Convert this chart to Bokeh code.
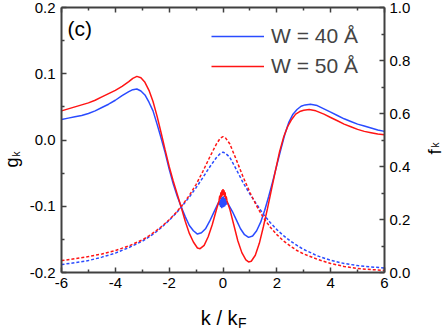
import math
from bokeh.plotting import figure
from bokeh.layouts import row, column
from bokeh.models import (Range1d, LinearAxis, FixedTicker, PrintfTickFormatter,
                          Label, Legend, LegendItem)
from bokeh.embed import file_html
from bokeh.resources import INLINE

# ---- data ----
k_w40 = [-6.0, -5.75, -5.5, -5.25, -5.0, -4.75, -4.5, -4.25, -4.0, -3.75, -3.5, -3.35, -3.2,
         -3.05, -2.9, -2.75, -2.6, -2.45, -2.3, -2.15, -2.0, -1.85, -1.7, -1.55, -1.4, -1.25,
         -1.1, -0.95, -0.8, -0.65, -0.5, -0.35, -0.2,
         -0.16, -0.13, -0.11, -0.09, -0.07, -0.05, -0.03, -0.01, 0.01, 0.03, 0.05, 0.07, 0.09,
         0.11, 0.13, 0.16,
         0.2, 0.35, 0.5, 0.65, 0.8, 0.95, 1.1, 1.25, 1.4, 1.55, 1.7, 1.85, 2.0, 2.15, 2.3,
         2.45, 2.6, 2.75, 2.9, 3.05, 3.25, 3.5, 3.75, 4.0, 4.25, 4.5, 4.75, 5.0, 5.25, 5.5,
         5.75, 6.0]
g_w40 = [0.031, 0.033, 0.035, 0.037, 0.040, 0.044, 0.049, 0.054, 0.060, 0.067, 0.073, 0.076, 0.077,
         0.074, 0.068, 0.057, 0.044, 0.024, 0.003, -0.019, -0.044, -0.066, -0.085, -0.101, -0.116, -0.129,
         -0.137, -0.142, -0.140, -0.134, -0.123, -0.110, -0.097,
         -0.094, -0.098, -0.090, -0.101, -0.087, -0.103, -0.086, -0.102, -0.085, -0.101, -0.087, -0.100, -0.089,
         -0.098, -0.092, -0.095,
         -0.097, -0.108, -0.121, -0.134, -0.143, -0.147, -0.145, -0.137, -0.124, -0.106, -0.085, -0.062, -0.038,
         -0.014, 0.009, 0.027, 0.039, 0.046, 0.051, 0.053, 0.054, 0.052, 0.047, 0.042, 0.037, 0.032, 0.028,
         0.024, 0.021, 0.018, 0.015, 0.013]

k_w50 = [-6.0, -5.75, -5.5, -5.25, -5.0, -4.75, -4.5, -4.25, -4.0, -3.75, -3.5, -3.35, -3.2,
         -3.05, -2.9, -2.75, -2.6, -2.45, -2.3, -2.15, -2.0, -1.85, -1.7, -1.55, -1.4, -1.25,
         -1.1, -0.95, -0.85, -0.7, -0.55, -0.4, -0.25,
         -0.15, -0.12, -0.1, -0.08, -0.06, -0.04, -0.02, 0.0, 0.02, 0.04, 0.06, 0.08, 0.1, 0.12, 0.15,
         0.25, 0.4, 0.55, 0.7, 0.85, 0.95, 1.05, 1.2, 1.35, 1.5, 1.65, 1.8, 1.95, 2.1, 2.25,
         2.4, 2.55, 2.7, 2.85, 3.0, 3.2, 3.45, 3.75, 4.0, 4.25, 4.5, 4.75, 5.0, 5.25, 5.5,
         5.75, 6.0]
g_w50 = [0.044, 0.047, 0.050, 0.053, 0.056, 0.060, 0.065, 0.070, 0.075, 0.081, 0.088, 0.093, 0.096,
         0.094, 0.087, 0.075, 0.058, 0.036, 0.011, -0.015, -0.040, -0.062, -0.082, -0.102, -0.123, -0.141,
         -0.154, -0.163, -0.164, -0.159, -0.146, -0.128, -0.106,
         -0.092, -0.084, -0.089, -0.079, -0.086, -0.076, -0.084, -0.074, -0.083, -0.076, -0.086, -0.079,
         -0.089, -0.085, -0.092,
         -0.104, -0.128, -0.152, -0.170, -0.181, -0.184, -0.183, -0.174, -0.156, -0.131, -0.104, -0.075,
         -0.046, -0.018, 0.004, 0.020, 0.031, 0.039, 0.043, 0.045, 0.046, 0.044, 0.039, 0.034, 0.029,
         0.024, 0.020, 0.016, 0.013, 0.011, 0.009, 0.008]

k_f = [-6.0, -5.5, -5.0, -4.5, -4.0, -3.5, -3.0, -2.75, -2.5, -2.25, -2.0, -1.75, -1.5, -1.25,
       -1.0, -0.75, -0.5, -0.25, -0.1, 0.0, 0.1, 0.25, 0.5, 0.75, 1.0, 1.25, 1.5, 1.75, 2.0,
       2.25, 2.5, 2.75, 3.0, 3.5, 4.0, 4.5, 5.0, 5.5, 6.0]
f_w40 = [0.030, 0.037, 0.045, 0.058, 0.073, 0.094, 0.118, 0.134, 0.152, 0.173, 0.197, 0.223, 0.253, 0.285,
         0.320, 0.358, 0.397, 0.433, 0.449, 0.454, 0.449, 0.435, 0.388, 0.338, 0.296, 0.257, 0.220, 0.189,
         0.162, 0.139, 0.119, 0.102, 0.087, 0.063, 0.046, 0.034, 0.026, 0.021, 0.017]
f_w50 = [0.045, 0.052, 0.060, 0.070, 0.083, 0.100, 0.123, 0.138, 0.156, 0.176, 0.199, 0.225, 0.256, 0.291,
         0.332, 0.381, 0.434, 0.484, 0.507, 0.513, 0.507, 0.486, 0.424, 0.360, 0.302, 0.251, 0.207, 0.172,
         0.143, 0.119, 0.100, 0.083, 0.070, 0.050, 0.034, 0.023, 0.015, 0.011, 0.008]

legend_labels = ["W = 40 Å", "W = 50 Å"]
x_major = [-6, -4, -2, 0, 2, 4, 6]
x_minor = [-5, -3, -1, 1, 3, 5]
g_major = [-0.2, -0.1, 0.0, 0.1, 0.2]
g_minor = [-0.15, -0.05, 0.05, 0.15]
f_major = [0.0, 0.2, 0.4, 0.6, 0.8, 1.0]
f_minor = [0.1, 0.3, 0.5, 0.7, 0.9]

BLUE = "#2a4bff"
RED = "#ff1414"
AXC = "#404040"
FONT = "Liberation Sans"

# main plot: frame 324 x 265 at page x 60..384, y 7..272
p = figure(width=388, height=297, x_range=Range1d(-6, 6), y_range=Range1d(-0.2, 0.2),
           output_backend="svg", toolbar_location=None, title=None,
           min_border_left=34, min_border_right=30, min_border_top=7, min_border_bottom=25,
           x_axis_location=None, y_axis_location=None)
p.extra_y_ranges = {"f": Range1d(0, 1)}
p.grid.visible = False
p.outline_line_color = None


def style(ax, standoff=5):
    ax.axis_line_color = AXC
    ax.axis_line_width = 2
    ax.major_tick_in = 5
    ax.major_tick_out = 0
    ax.minor_tick_in = 3
    ax.minor_tick_out = 0
    ax.major_tick_line_color = AXC
    ax.minor_tick_line_color = AXC
    ax.major_tick_line_width = 1.5
    ax.minor_tick_line_width = 1.5
    ax.major_label_text_font = FONT
    ax.major_label_text_color = "black"
    ax.major_label_standoff = standoff
    ax.major_label_text_font_size = "15px"


xb = LinearAxis(ticker=FixedTicker(ticks=x_major, minor_ticks=x_minor),
                formatter=PrintfTickFormatter(format="%d"))
style(xb, standoff=5)
p.add_layout(xb, "below")

xt = LinearAxis(ticker=FixedTicker(ticks=x_major, minor_ticks=x_minor))
style(xt)
xt.major_label_text_font_size = "0px"
xt.major_label_text_color = None
xt.major_label_standoff = 0
p.add_layout(xt, "above")

yl = LinearAxis(ticker=FixedTicker(ticks=g_major, minor_ticks=g_minor),
                formatter=PrintfTickFormatter(format="%.1f"))
style(yl, standoff=6)
p.add_layout(yl, "left")

yr = LinearAxis(y_range_name="f", ticker=FixedTicker(ticks=f_major, minor_ticks=f_minor),
                formatter=PrintfTickFormatter(format="%.1f"))
style(yr, standoff=5)
p.add_layout(yr, "right")

r40 = p.line(k_w40, g_w40, line_color=BLUE, line_width=1.5)
r50 = p.line(k_w50, g_w50, line_color=RED, line_width=1.5)
p.line(k_f, f_w40, line_color=BLUE, line_width=1.5, line_dash="3 2", y_range_name="f")
p.line(k_f, f_w50, line_color=RED, line_width=1.5, line_dash="3 2", y_range_name="f")

legend = Legend(items=[LegendItem(label=legend_labels[0], renderers=[r40]),
                       LegendItem(label=legend_labels[1], renderers=[r50])],
                location=(150, 194), glyph_width=53, glyph_height=20, label_height=20,
                label_standoff=7, spacing=6, padding=0, margin=0,
                border_line_color=None, background_fill_alpha=0,
                label_text_font=FONT, label_text_font_size="21px")
p.add_layout(legend)


def lab(fig, x, y, text, size, angle=0.0, align="left", baseline="alphabetic"):
    fig.add_layout(Label(x=x, y=y, x_units="screen", y_units="screen", text=text,
                         text_font=FONT, text_font_size=size, angle=angle,
                         text_align=align, text_baseline=baseline, text_color="black"))


lab(p, 6, 244.5, "(c)", "21px", baseline="middle")


def strip(w, h):
    s = figure(width=w, height=h, x_range=Range1d(0, 1), y_range=Range1d(0, 1),
               output_backend="svg", toolbar_location=None, title=None, min_border=0,
               x_axis_location=None, y_axis_location=None)
    s.grid.visible = False
    s.outline_line_color = None
    return s


left = strip(26, 297)
lab(left, 11, 105, "g", "18px", angle=math.pi / 2)
lab(left, 16, 116, "k", "10px", angle=math.pi / 2)

right = strip(29, 297)
lab(right, 19.5, 118, "f", "19px", angle=math.pi / 2)
lab(right, 21, 125, "k", "10px", angle=math.pi / 2)

bottom = strip(443, 32)
lab(bottom, 237, 12, "k / k", "20px", align="right")
lab(bottom, 237.5, 7, "F", "14px")

layout = column(row(left, p, right, spacing=0), bottom, spacing=0)

open("out.html", "w").write(file_html(layout, INLINE))
